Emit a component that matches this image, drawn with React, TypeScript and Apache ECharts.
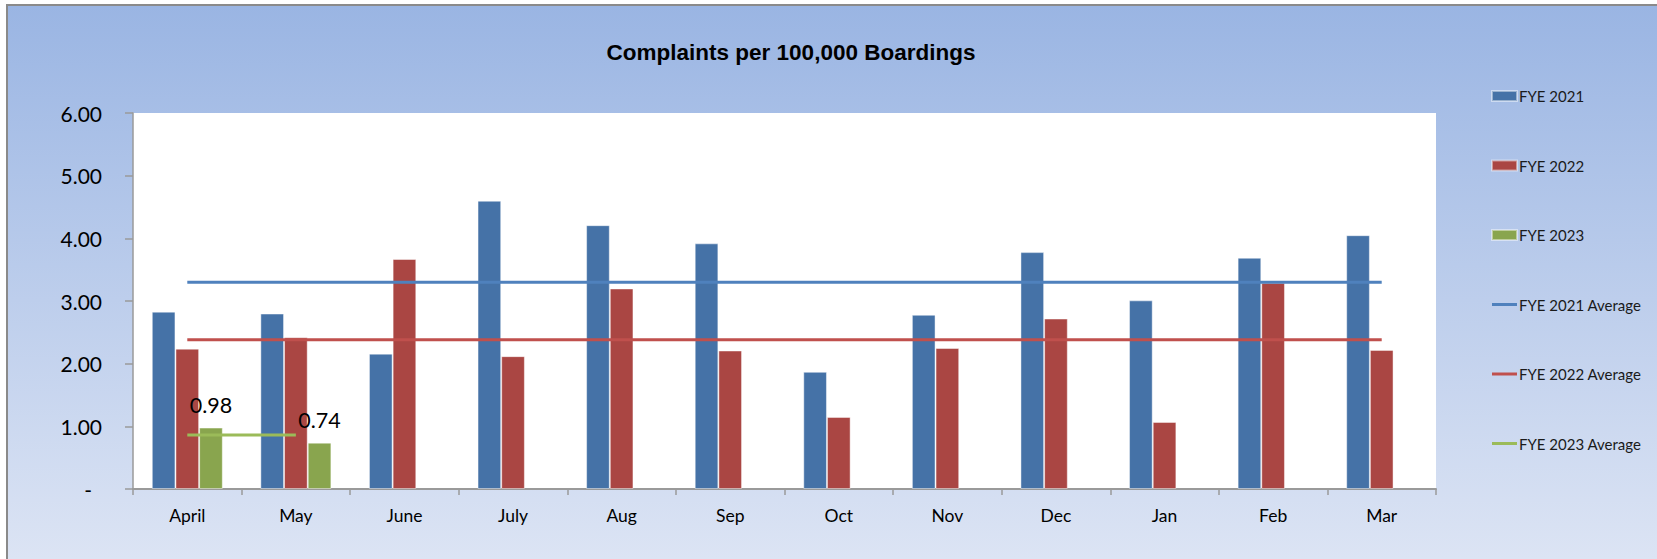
import React, { useEffect, useRef } from "react";
import * as echarts from "echarts";

const categories = ["April", "May", "June", "July", "Aug", "Sep", "Oct", "Nov", "Dec", "Jan", "Feb", "Mar"];
const fye2021 = [2.83, 2.8, 2.16, 4.6, 4.21, 3.92, 1.87, 2.78, 3.78, 3.01, 3.69, 4.05];
const fye2022 = [2.24, 2.42, 3.67, 2.12, 3.2, 2.21, 1.15, 2.25, 2.72, 1.07, 3.29, 2.22];
const fye2023 = [0.98, 0.74, null, null, null, null, null, null, null, null, null, null];
const avg2021 = [3.3, 3.3, 3.3, 3.3, 3.3, 3.3, 3.3, 3.3, 3.3, 3.3, 3.3, 3.3];
const avg2022 = [2.38, 2.38, 2.38, 2.38, 2.38, 2.38, 2.38, 2.38, 2.38, 2.38, 2.38, 2.38];
const avg2023 = [0.86, 0.86, null, null, null, null, null, null, null, null, null, null];
const seriesNames = ["FYE 2021", "FYE 2022", "FYE 2023", "FYE 2021 Average", "FYE 2022 Average", "FYE 2023 Average"];
const titleText = "Complaints per 100,000 Boardings";

const FONT = "Lato, 'Noto Sans', sans-serif";
const LINE_ICON = "path://M0,0 L25,0 L25,3 L0,3 Z";

export default function App() {
  const ref = useRef<HTMLDivElement>(null);
  useEffect(() => {
    if (!ref.current) return;
    const chart = echarts.init(ref.current, null, { renderer: "svg" });
    const barBorder = { borderColor: "rgba(255,255,255,0.45)", borderWidth: 1 };
    chart.setOption({
      animation: false,
      textStyle: { fontFamily: FONT },
      title: {
        text: titleText,
        left: 783,
        top: 35,
        textAlign: "center",
        padding: 0,
        textStyle: { fontFamily: "'Liberation Sans', Arial, sans-serif", fontWeight: "bold", fontSize: 22.5, color: "#000" },
      },
      legend: {
        orient: "vertical",
        left: 1483,
        top: 80,
        padding: 0,
        itemWidth: 25,
        itemHeight: 10,
        itemGap: 49.5,
        data: [
          { name: seriesNames[0], icon: "rect" },
          { name: seriesNames[1], icon: "rect" },
          { name: seriesNames[2], icon: "rect" },
          { name: seriesNames[3], icon: LINE_ICON },
          { name: seriesNames[4], icon: LINE_ICON },
          { name: seriesNames[5], icon: LINE_ICON },
        ],
        textStyle: { fontFamily: FONT, fontSize: 15, lineHeight: 20, color: "#1a1a1a", padding: [0, 0, 0, -3] },
      },
      grid: {
        left: 125,
        top: 107,
        right: 221,
        bottom: 70,
        show: true,
        backgroundColor: "#ffffff",
        borderWidth: 0,
        containLabel: false,
      },
      xAxis: {
        type: "category",
        data: categories,
        boundaryGap: true,
        axisLine: { show: true, lineStyle: { color: "#9a9a9a", width: 2 } },
        axisTick: { show: true, length: 6, interval: 0, lineStyle: { color: "#9a9a9a", width: 1.5 } },
        axisLabel: { interval: 0, fontFamily: FONT, fontSize: 17.5, color: "#000", margin: 17 },
      },
      yAxis: {
        type: "value",
        min: 0,
        max: 6,
        interval: 1,
        splitLine: { show: false },
        axisLine: { show: true, lineStyle: { color: "#9a9a9a", width: 1.5 } },
        axisTick: { show: true, length: 8, lineStyle: { color: "#9a9a9a", width: 1.5 } },
        axisLabel: {
          fontFamily: FONT,
          fontSize: 21,
          color: "#000",
          margin: 31,
          formatter: (v: number) => (v === 0 ? "{z|-}" : v.toFixed(2)),
          rich: { z: { fontFamily: FONT, fontSize: 21, color: "#000", padding: [0, 10, 0, 0] } },
        },
      },
      series: [
        {
          name: seriesNames[0],
          type: "bar",
          data: fye2021,
          barGap: "0%",
          barCategoryGap: "34.6%",
          itemStyle: { color: "#4572A7", ...barBorder },
        },
        {
          name: seriesNames[1],
          type: "bar",
          data: fye2022,
          itemStyle: { color: "#AA4643", ...barBorder },
        },
        {
          name: seriesNames[2],
          type: "bar",
          data: fye2023,
          itemStyle: { color: "#89A54E", ...barBorder },
          label: {
            show: true,
            position: "top",
            distance: 12,
            fontFamily: FONT,
            fontSize: 21.5,
            color: "#000",
            formatter: (p: any) => (p.value == null ? "" : Number(p.value).toFixed(2)),
          },
        },
        {
          name: seriesNames[3],
          type: "line",
          data: avg2021,
          symbol: "none",
          showSymbol: false,
          lineStyle: { color: "#4F81BD", width: 3 },
          itemStyle: { color: "#4F81BD" },
          z: 5,
        },
        {
          name: seriesNames[4],
          type: "line",
          data: avg2022,
          symbol: "none",
          showSymbol: false,
          lineStyle: { color: "#C0504D", width: 3 },
          itemStyle: { color: "#C0504D" },
          z: 5,
        },
        {
          name: seriesNames[5],
          type: "line",
          data: avg2023,
          symbol: "none",
          showSymbol: false,
          lineStyle: { color: "#9BBB59", width: 3 },
          itemStyle: { color: "#9BBB59" },
          z: 5,
        },
      ],
    });
    return () => chart.dispose();
  }, []);

  return (
    <div
      style={{
        position: "absolute",
        left: 6,
        top: 4,
        width: 1651,
        height: 555,
        boxSizing: "border-box",
        borderTop: "2px solid #8a8a8a",
        borderLeft: "2px solid #8a8a8a",
        background: "linear-gradient(180deg, #9AB5E3 0%, #DCE4F4 100%)",
      }}
    >
      <div ref={ref} style={{ width: 1649, height: 553 }} />
    </div>
  );
}
